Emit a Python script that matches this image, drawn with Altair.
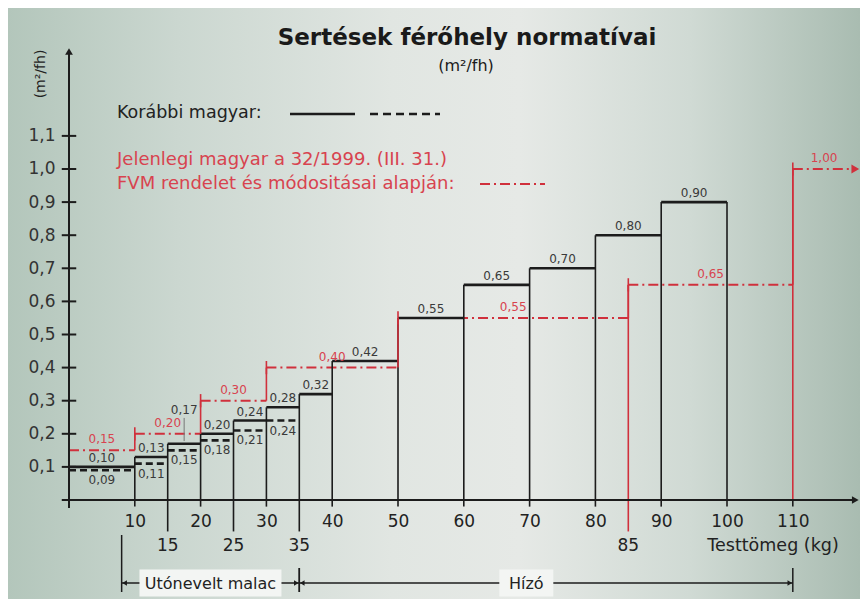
import altair as alt
import pandas as pd

# ---------------- data ----------------
old_start = [0, 10, 15, 20, 25, 30, 35, 40, 50, 60, 70, 80, 90]
old_end = [10, 15, 20, 25, 30, 35, 40, 50, 60, 70, 80, 90, 100]
old_upper = [0.10, 0.13, 0.17, 0.20, 0.24, 0.28, 0.32, 0.42, 0.55, 0.65, 0.70, 0.80, 0.90]
old_lower = [0.09, 0.11, 0.15, 0.18, 0.21, 0.24]          # dashed values, 0-35 kg

new_start = [0, 10, 20, 30, 50, 85, 110]
new_end = [10, 20, 30, 50, 85, 110, 119.5]
new_value = [0.15, 0.20, 0.30, 0.40, 0.55, 0.65, 1.00]

y_tick_values = [0.1, 0.2, 0.3, 0.4, 0.5, 0.6, 0.7, 0.8, 0.9, 1.0, 1.1]
x_tick_major = [10, 20, 30, 40, 50, 60, 70, 80, 90, 100, 110]
x_tick_minor = [15, 25, 35, 85]

group_names = ["Utónevelt malac", "Hízó"]
group_start = [8, 35]
group_end = [35, 110]
group_label_x = [21.5, 69.5]

title_text = "Sertések férőhely normatívai"
unit_text = "(m²/fh)"
x_title_text = "Testtömeg (kg)"
legend_old_text = "Korábbi magyar:"
legend_new_text = ["Jelenlegi magyar a 32/1999. (III. 31.)",
                   "FVM rendelet és módositásai alapján:"]

X_MAX_ARROW = 119.5
Y_MAX_ARROW = 1.355

# ---------------- styles ----------------
FONT = "DejaVu Sans"
BLACK = "#1c1c1c"
RED = "#d0303c"
RED_TXT = "#d8434f"
GRAY_TXT = "#3a3a3a"


def fmt(v):
    return f"{v:.2f}".replace(".", ",")


old_df = pd.DataFrame({"start": old_start, "end": old_end, "upper": old_upper})
old_df["mid"] = (old_df["start"] + old_df["end"]) / 2
old_df["label"] = [fmt(v) for v in old_upper]

low_df = old_df.iloc[: len(old_lower)].copy()
low_df["lower"] = old_lower
low_df["label"] = [fmt(v) for v in old_lower]

vert_top = [max(old_upper[i], old_upper[i + 1]) for i in range(len(old_upper) - 1)] + [old_upper[-1]]
vert_df = pd.DataFrame({"x": old_end, "top": vert_top, "zero": 0.0})

new_df = pd.DataFrame({"start": new_start, "end": new_end, "value": new_value})
new_df["mid"] = (new_df["start"] + new_df["end"]) / 2
new_df["label"] = [fmt(v) for v in new_value]
new_df["lo"] = new_df["value"] - 0.02
new_df["hi"] = new_df["value"] + 0.02
new_df["zero"] = 0.0

conn_df = pd.DataFrame({"x": new_start[1:], "y1": new_value[:-1], "y2": new_value[1:]})

ytick_df = pd.DataFrame({"y": y_tick_values, "a": -1.1, "b": 1.1})
xmaj_df = pd.DataFrame({"x": x_tick_major, "a": 0.0, "b": -0.02})
xmin_df = pd.DataFrame({"x": x_tick_minor, "a": 0.0, "b": -0.095})

grp_df = pd.DataFrame({"name": group_names, "start": group_start, "end": group_end,
                       "lx": group_label_x})

one = pd.DataFrame({"d": [0]})

xs = alt.Scale(domain=[0, 120.06], nice=False, zero=False)
ys = alt.Scale(domain=[0, 1.3595], nice=False, zero=False)

xaxis = alt.Axis(values=x_tick_major, domain=False, ticks=False, tickSize=0, grid=False,
                 labelPadding=13, labelFont=FONT, labelFontSize=17, labelColor="#222",
                 title=None, labelFlush=False, labelOverlap=False, zindex=2)
yaxis = alt.Axis(values=y_tick_values, domain=False, ticks=False, tickSize=0, grid=False,
                 labelPadding=14, labelFont=FONT, labelFontSize=17, labelColor="#333",
                 title=None, labelOverlap=False, zindex=2,
                 labelExpr="replace(format(datum.value, '.1f'), '.', ',')")


def X(f):
    return alt.X(f, type="quantitative", scale=xs, axis=xaxis)


def Y(f):
    return alt.Y(f, type="quantitative", scale=ys, axis=yaxis)


layers = []

# background gradient
layers.append(
    alt.Chart(one).mark_rect(
        fill=alt.LinearGradient(
            gradient="linear",
            stops=[alt.GradientStop(color="#b3c6bb", offset=0),
                   alt.GradientStop(color="#cbd7d0", offset=0.2),
                   alt.GradientStop(color="#e1e6e2", offset=0.45),
                   alt.GradientStop(color="#e6e9e6", offset=0.6),
                   alt.GradientStop(color="#d0dad4", offset=0.8),
                   alt.GradientStop(color="#a9bcb1", offset=1)],
            x1=0, x2=1, y1=0, y2=0)
    ).encode(x=alt.value(-61), x2=alt.value(791), y=alt.value(-42), y2=alt.value(549))
)

# red full-height lines at 85 and 110
layers.append(
    alt.Chart(new_df).transform_filter("datum.start >= 85").mark_rule(
        color=RED, strokeWidth=1.6
    ).encode(x=X("start"), y=Y("zero"), y2="value")
)
# red minor tick under 85
layers.append(
    alt.Chart(xmin_df).transform_filter("datum.x == 85").mark_rule(
        color=RED, strokeWidth=1.6
    ).encode(x=X("x"), y=Y("a"), y2="b")
)

# red dash-dot steps
layers.append(
    alt.Chart(new_df).mark_rule(color=RED, strokeWidth=2, strokeDash=[10, 4, 2, 4]).encode(
        x=X("start"), x2="end", y=Y("value"))
)

# black verticals
layers.append(
    alt.Chart(vert_df).mark_rule(color=BLACK, strokeWidth=1.6).encode(
        x=X("x"), y=Y("zero"), y2="top")
)
# black solid steps
layers.append(
    alt.Chart(old_df).mark_rule(color=BLACK, strokeWidth=2.6).encode(
        x=X("start"), x2="end", y=Y("upper"))
)
# black dashed steps
layers.append(
    alt.Chart(low_df).mark_rule(color=BLACK, strokeWidth=2.6, strokeDash=[7, 4]).encode(
        x=X("start"), x2="end", y=Y("lower"))
)

# red connectors and start ticks
layers.append(
    alt.Chart(conn_df).mark_rule(color=RED, strokeWidth=1.6).encode(
        x=X("x"), y=Y("y1"), y2="y2")
)
layers.append(
    alt.Chart(new_df).mark_rule(color=RED, strokeWidth=1.6).encode(
        x=X("start"), y=Y("lo"), y2="hi")
)
# red arrow at 1,00
layers.append(
    alt.Chart(new_df).transform_filter("datum.start == 110").mark_point(
        shape="triangle-right", filled=True, size=80, color=RED, opacity=1
    ).encode(x=X("end"), y=Y("value"))
)

# axes lines, arrows, ticks
ax_df = pd.DataFrame({"x0": [-1.1], "x1": [X_MAX_ARROW], "y0": [-0.024], "y1": [Y_MAX_ARROW],
                      "zero": [0.0]})
layers.append(alt.Chart(ax_df).mark_rule(color=BLACK, strokeWidth=2).encode(
    x=X("x0"), x2="x1", y=Y("zero")))
layers.append(alt.Chart(ax_df).mark_rule(color=BLACK, strokeWidth=2).encode(
    x=X("zero"), y=Y("y0"), y2="y1"))
layers.append(alt.Chart(ax_df).mark_point(shape="triangle-right", filled=True, size=60,
                                          color=BLACK, opacity=1).encode(
    x=X("x1"), y=Y("zero")))
layers.append(alt.Chart(ax_df).mark_point(shape="triangle-up", filled=True, size=60,
                                          color=BLACK, opacity=1).encode(
    x=X("zero"), y=Y("y1")))
layers.append(alt.Chart(ytick_df).mark_rule(color=BLACK, strokeWidth=2).encode(
    x=X("a"), x2="b", y=Y("y")))
layers.append(alt.Chart(xmaj_df).mark_rule(color=BLACK, strokeWidth=1.6).encode(
    x=X("x"), y=Y("a"), y2="b"))
layers.append(alt.Chart(xmin_df).transform_filter("datum.x != 85").mark_rule(
    color=BLACK, strokeWidth=1.6).encode(x=X("x"), y=Y("a"), y2="b"))

# value labels
lab = dict(font=FONT, fontSize=12, align="center", baseline="middle")
layers.append(alt.Chart(old_df).transform_filter("datum.start != 15").mark_text(
    color=GRAY_TXT, dy=-9, **lab).encode(x=X("mid"), y=Y("upper"), text="label:N"))
layers.append(alt.Chart(old_df).transform_filter("datum.start == 15").mark_text(
    color=GRAY_TXT, dy=-34, **lab).encode(x=X("mid"), y=Y("upper"), text="label:N"))
layers.append(alt.Chart(old_df).transform_filter("datum.start == 15").transform_calculate(
    a="datum.upper + 0.008", b="datum.upper + 0.078").mark_rule(
    color="#777", strokeWidth=1).encode(x=X("mid"), y=Y("a"), y2="b"))
layers.append(alt.Chart(low_df).mark_text(color=GRAY_TXT, dy=10, **lab).encode(
    x=X("mid"), y=Y("lower"), text="label:N"))
layers.append(alt.Chart(new_df).mark_text(color=RED_TXT, dy=-11, **lab).encode(
    x=X("mid"), y=Y("value"), text="label:N"))

# second-row tick labels and x title
layers.append(alt.Chart(xmin_df).mark_text(font=FONT, fontSize=17, color="#222",
                                           baseline="middle").encode(
    x=X("x"), y=alt.value(496), text=alt.Text("x:Q", format="d")))
layers.append(alt.Chart(one).mark_text(font=FONT, fontSize=17.5, color="#222",
                                       baseline="middle", align="center").encode(
    x=alt.value(704), y=alt.value(496), text=alt.value(x_title_text)))

# group brackets
BY = 533
layers.append(alt.Chart(grp_df).mark_rule(color=BLACK, strokeWidth=1.5).encode(
    x=X("start"), x2="end", y=alt.value(BY)))
layers.append(alt.Chart(grp_df).mark_point(shape="triangle-left", filled=True, size=28,
                                           color=BLACK, opacity=1).encode(
    x=X("start"), y=alt.value(BY), xOffset=alt.value(3)))
layers.append(alt.Chart(grp_df).mark_point(shape="triangle-right", filled=True, size=28,
                                           color=BLACK, opacity=1).encode(
    x=X("end"), y=alt.value(BY), xOffset=alt.value(-3)))
layers.append(alt.Chart(grp_df).mark_rule(color=BLACK, strokeWidth=1.5).encode(
    x=X("end"), y=alt.value(518), y2=alt.value(542)))
layers.append(alt.Chart(grp_df).transform_filter("datum.start > 10").mark_rule(
    color=BLACK, strokeWidth=1.5).encode(x=X("start"), y=alt.value(518), y2=alt.value(542)))
layers.append(alt.Chart(grp_df).transform_filter("datum.start < 10").mark_rule(
    color=BLACK, strokeWidth=1.5).encode(x=X("start"), y=alt.value(485), y2=alt.value(542)))
layers.append(alt.Chart(grp_df).transform_filter("datum.start < 10").mark_point(
    shape="M-1,-0.19H1V0.19H-1Z", filled=True, size=142 * 142, color="#f3f5f3",
    opacity=1, strokeWidth=0).encode(x=X("lx"), y=alt.value(BY)))
layers.append(alt.Chart(grp_df).transform_filter("datum.start > 10").mark_point(
    shape="M-1,-0.5H1V0.5H-1Z", filled=True, size=54 * 54, color="#f3f5f3",
    opacity=1, strokeWidth=0).encode(x=X("lx"), y=alt.value(BY)))
layers.append(alt.Chart(grp_df).mark_text(font=FONT, fontSize=16, color="#222",
                                          baseline="middle", align="center").encode(
    x=X("lx"), y=alt.value(BY + 1), text="name:N"))

# title, unit, y title
layers.append(alt.Chart(one).mark_text(font=FONT, fontSize=23, fontWeight="bold",
                                       color="#1a1a1a", align="center",
                                       baseline="alphabetic").encode(
    x=alt.value(398), y=alt.value(-5), text=alt.value(title_text)))
layers.append(alt.Chart(one).mark_text(font=FONT, fontSize=16, color="#1a1a1a",
                                       align="center", baseline="alphabetic").encode(
    x=alt.value(397), y=alt.value(21), text=alt.value(unit_text)))
layers.append(alt.Chart(one).mark_text(font=FONT, fontSize=14, color="#222", angle=270,
                                       align="center", baseline="middle").encode(
    x=alt.value(-28), y=alt.value(24), text=alt.value(unit_text)))

# legend texts and samples
layers.append(alt.Chart(one).mark_text(font=FONT, fontSize=17.5, color="#222",
                                       align="left", baseline="middle").encode(
    x=alt.value(48), y=alt.value(63), text=alt.value(legend_old_text)))
layers.append(alt.Chart(one).mark_rule(color=BLACK, strokeWidth=2.5).encode(
    x=alt.value(221), x2=alt.value(286), y=alt.value(64)))
layers.append(alt.Chart(one).mark_rule(color=BLACK, strokeWidth=2.5, strokeDash=[8, 5]).encode(
    x=alt.value(301), x2=alt.value(371), y=alt.value(64)))
for i, t in enumerate(legend_new_text):
    layers.append(alt.Chart(one).mark_text(font=FONT, fontSize=18, color=RED_TXT,
                                           align="left", baseline="middle").encode(
        x=alt.value(48), y=alt.value(110 + 24 * i), text=alt.value(t)))
layers.append(alt.Chart(one).mark_rule(color=RED, strokeWidth=2, strokeDash=[10, 4, 2, 4]).encode(
    x=alt.value(411), x2=alt.value(476), y=alt.value(134)))

chart = alt.layer(*layers).properties(
    width=790, height=450,
    padding={"left": 61, "top": 42, "right": 1, "bottom": 99},
    autosize=alt.AutoSizeParams(type="none"),
).configure_view(stroke=None)

chart.save("out.html", embed_options={"renderer": "svg", "actions": False})
